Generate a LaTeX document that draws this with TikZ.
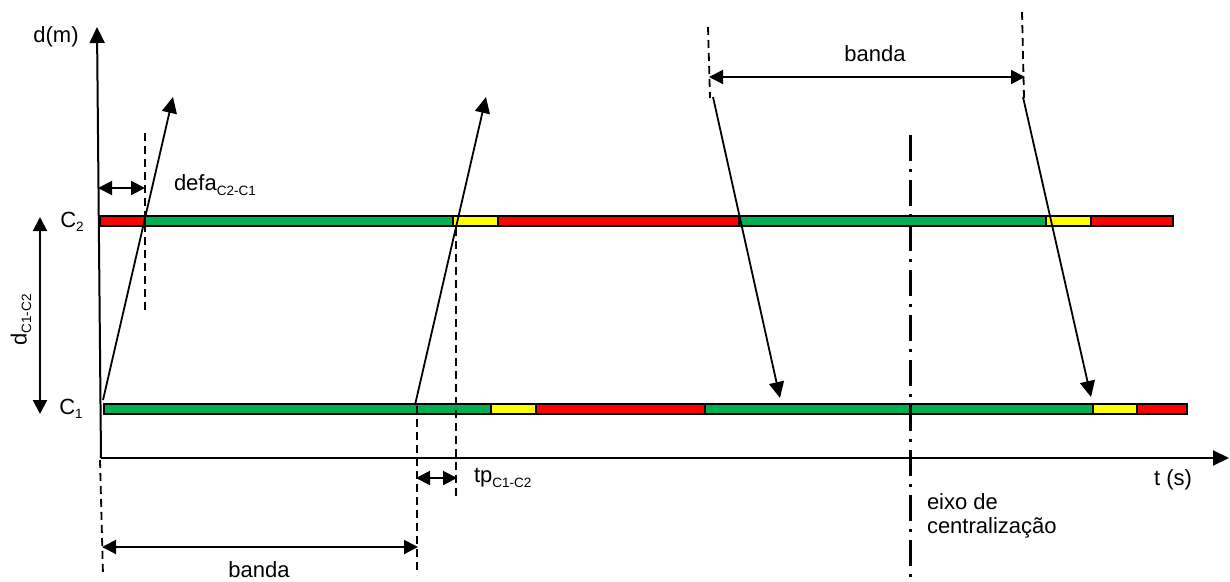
\documentclass[tikz,border=0pt]{standalone}
\usepackage{fontspec}
\setmainfont{Liberation Sans}
\usetikzlibrary{arrows.meta}
\definecolor{grn}{HTML}{00B050}
\definecolor{rd}{HTML}{FF0000}
\definecolor{ylw}{HTML}{FFFF00}
\newcommand\mysub[1]{\raisebox{-4.5pt}{\fontsize{13.5}{15}\selectfont #1}}
\begin{document}
\begin{tikzpicture}[x=1pt,y=-1pt, line width=2pt,
  tip/.style={-{Triangle[length=16pt,width=15pt]}},
  dtip/.style={{Triangle[length=14pt,width=14pt]}-{Triangle[length=14pt,width=14pt]}},
  dsh/.style={line width=1.8pt, dash pattern=on 8pt off 5pt},
  seg/.style={draw=black, line width=2pt},
  lbl/.style={font=\fontsize{22}{26}\selectfont, inner sep=0pt},
  axisc/.style={line width=3pt, dash pattern=on 26pt off 8pt on 3pt off 8pt},
  ]
\useasboundingbox[fill=white] (0,0) rectangle (1230,581);

% bars C2
\filldraw[seg, fill=rd]  (100,216) rectangle (145,226);
\filldraw[seg, fill=grn] (145,216) rectangle (453,226);
\filldraw[seg, fill=ylw] (453,216) rectangle (498,226);
\filldraw[seg, fill=rd]  (498,216) rectangle (739,226);
\filldraw[seg, fill=grn] (739,216) rectangle (1046,226);
\filldraw[seg, fill=ylw] (1046,216) rectangle (1091,226);
\filldraw[seg, fill=rd]  (1091,216) rectangle (1173,226);
% bars C1
\filldraw[seg, fill=grn] (104,404) rectangle (491,414);
\filldraw[seg, fill=ylw] (491,404) rectangle (536,414);
\filldraw[seg, fill=rd]  (536,404) rectangle (705,414);
\filldraw[seg, fill=grn] (705,404) rectangle (1093,414);
\filldraw[seg, fill=ylw] (1093,404) rectangle (1137,414);
\filldraw[seg, fill=rd]  (1137,404) rectangle (1187,414);

% axes
\coordinate (O) at (101,458);
\coordinate (ytop) at (97,27);
\coordinate (xend) at (1229,458);
\draw[tip] (O) -- (ytop);
\draw[tip] (O) -- (xend);
\node[lbl] (dm) at (56,37) {d(m)};
\node[lbl] (ts) at (1173,480) {t (s)};

% C labels
\node[lbl] (c2) at (72,222) {C\mysub{2}};
\node[lbl] (c1) at (71,409) {C\mysub{1}};
\coordinate (dtop) at (40,217);
\coordinate (dbot) at (40,414);
\draw[dtip] (dbot) -- (dtop);
\node[lbl, rotate=90] (dlab) at (21,320) {d\mysub{C1-C2}};

% defa
\coordinate (defaT) at (145,133);
\coordinate (defaB) at (145,312);
\draw[dsh] (defaT) -- (defaB);
\coordinate (defaL) at (98,188);
\coordinate (defaR) at (145,188);
\draw[dtip] (defaL) -- (defaR);
\node[lbl, anchor=west] (defalab) at (173,185) {defa\mysub{C2-C1}};

% solid arrows
\coordinate (a1s) at (103,400); \coordinate (a1e) at (173,97);
\coordinate (a2s) at (415,405); \coordinate (a2e) at (486,97);
\coordinate (a3s) at (713,97);  \coordinate (a3e) at (780,398);
\coordinate (a4s) at (1023,97); \coordinate (a4e) at (1091,397);
\draw[tip, line width=1.8pt] (a1s) -- (a1e);
\draw[tip, line width=1.8pt] (a2s) -- (a2e);
\draw[tip, line width=1.8pt] (a3s) -- (a3e);
\draw[tip, line width=1.8pt] (a4s) -- (a4e);

% tp
\coordinate (tp1T) at (417,406); \coordinate (tp1B) at (417,575);
\coordinate (tp2T) at (456,228); \coordinate (tp2B) at (456,497);
\draw[dsh] (tp1T) -- (tp1B);
\draw[dsh] (tp2T) -- (tp2B);
\coordinate (tpL) at (416,478); \coordinate (tpR) at (457,478);
\draw[dtip] (tpL) -- (tpR);
\node[lbl, anchor=west] (tplab) at (473,478) {tp\mysub{C1-C2}};

% bottom banda
\coordinate (bbT) at (100,460); \coordinate (bbB) at (103,575);
\draw[dsh] (bbT) -- (bbB);
\coordinate (bbL) at (102,547); \coordinate (bbR) at (418,547);
\draw[dtip] (bbL) -- (bbR);
\node[lbl] (bblab) at (259,570) {banda};

% top banda
\coordinate (tbLT) at (708,27); \coordinate (tbLB) at (710,98);
\coordinate (tbRT) at (1022,12); \coordinate (tbRB) at (1024,98);
\draw[dsh] (tbLT) -- (tbLB);
\draw[dsh] (tbRT) -- (tbRB);
\coordinate (tbL) at (709,77); \coordinate (tbR) at (1025,77);
\draw[dtip] (tbL) -- (tbR);
\node[lbl] (tblab) at (875,54) {banda};

% eixo de centralização
\coordinate (exT) at (910,135); \coordinate (exB) at (910,578);
\draw[axisc] (exT) -- (exB);
\node[lbl, anchor=west, align=left, font=\fontsize{22}{24}\selectfont] (exlab) at (926,516) {eixo de\\centralização};
\end{tikzpicture}
\end{document}
